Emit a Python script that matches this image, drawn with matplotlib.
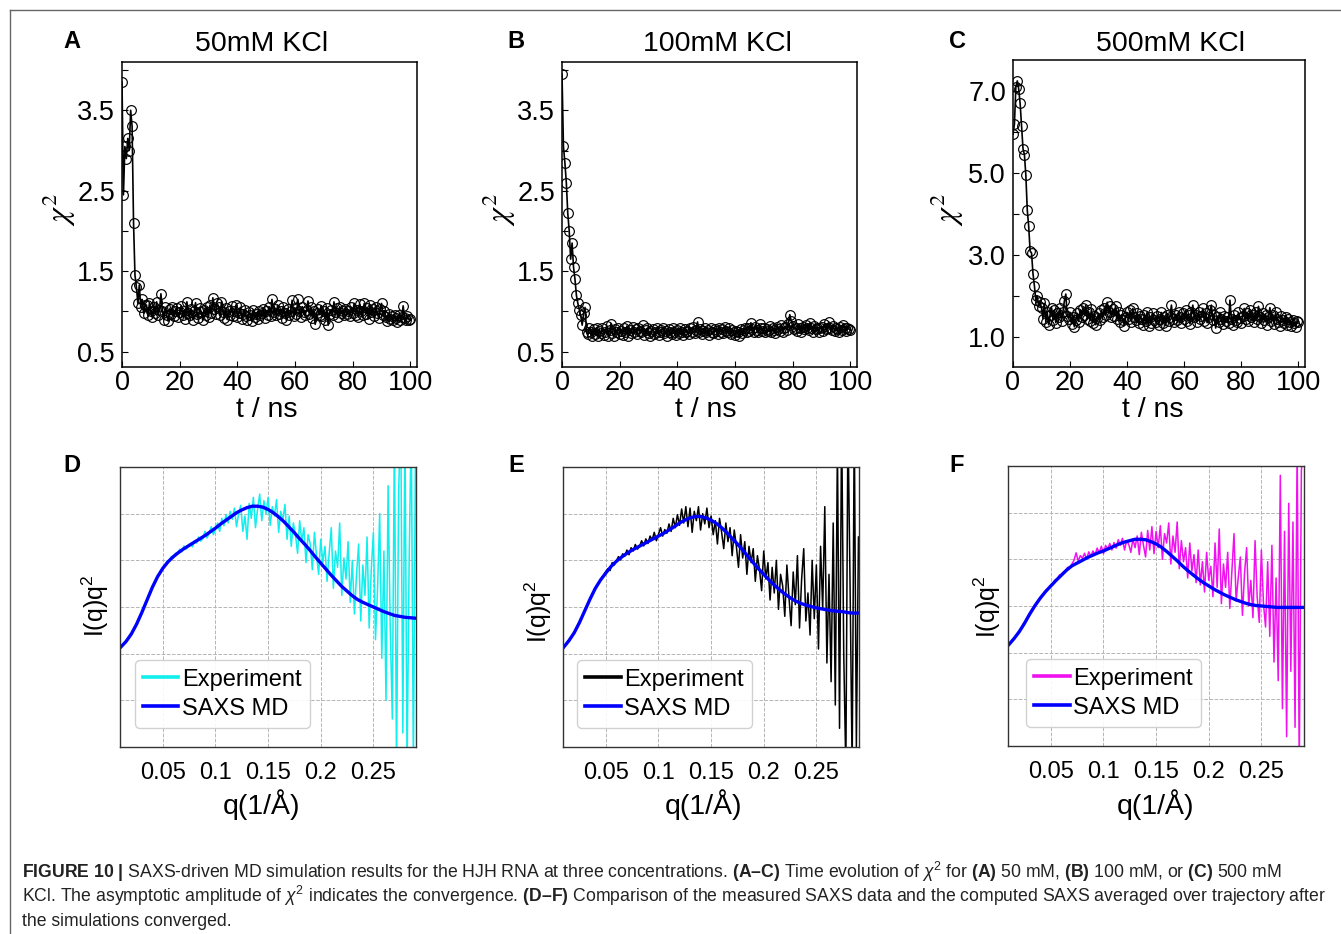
import numpy as np
import matplotlib.pyplot as plt
from matplotlib.lines import Line2D

plt.rcParams['font.family'] = ['Liberation Sans', 'DejaVu Sans']
plt.rcParams['mathtext.fontset'] = 'custom'
plt.rcParams['mathtext.rm'] = 'Liberation Sans'
plt.rcParams['mathtext.it'] = 'Liberation Sans:italic'
plt.rcParams['mathtext.bf'] = 'Liberation Sans:bold'

# ---- chi^2 traces, one value every 0.5 ns ----
chi_50 = [3.85, 2.45, 3.05, 2.90, 3.15, 3.00, 3.50, 3.30, 2.10, 1.45, 1.30, 1.10, 1.33, 1.05, 1.15, 0.98, 1.08,
          1.08, 0.95, 1.10, 1.00, 0.93, 1.05, 0.98, 1.12, 0.96, 1.02,
          1.22, 1.00, 0.90, 1.05, 0.95, 0.88, 1.03, 0.97, 1.06, 0.94,
          1.00, 1.04, 0.93, 0.99, 1.07, 0.96, 1.01, 0.91, 1.12, 0.98,
          0.95, 1.03, 0.90, 1.00, 1.11, 0.97, 0.92, 1.04, 0.99, 0.89,
          1.02, 0.96, 1.05, 0.93, 1.08, 0.98, 1.17, 1.03, 0.97, 1.10,
          1.06, 0.95, 1.12, 0.99, 0.92, 1.04, 0.90, 1.01, 0.96, 1.07,
          0.94, 1.00, 1.08, 0.93, 0.98, 1.05, 0.91, 0.97, 1.02, 0.94,
          0.90, 0.99, 0.95, 0.88, 1.02, 0.93, 0.97, 0.91, 1.00, 0.95,
          0.98, 1.03, 0.92, 1.01, 0.96, 1.06, 0.94, 1.15, 0.99, 1.03,
          0.95, 1.08, 0.97, 1.01, 0.92, 1.05, 0.98, 0.89, 1.03, 0.96,
          1.00, 1.14, 0.94, 1.04, 0.97, 1.15, 1.01, 0.93, 1.06, 0.99,
          0.95, 1.02, 1.13, 0.97, 1.05, 0.92, 1.00, 0.84, 0.98, 1.03,
          0.96, 1.07, 0.94, 1.01, 0.90, 1.04, 0.83, 0.97, 1.02, 0.95,
          1.12, 0.99, 1.04, 0.93, 1.06, 0.98, 1.01, 0.95, 1.03, 0.97,
          1.00, 0.94, 1.05, 0.98, 1.10, 0.96, 1.02, 0.93, 1.09, 1.00,
          0.95, 1.10, 0.97, 1.04, 0.91, 1.08, 0.99, 1.03, 0.94, 1.06,
          0.98, 0.92, 1.03, 1.10, 0.96, 1.01, 0.93, 0.88, 0.97, 0.91,
          0.94, 0.89, 0.96, 0.92, 0.87, 0.95, 0.90, 0.93, 1.07, 0.92,
          0.89, 0.94, 0.90, 0.91]

chi_100 = [3.95, 3.05, 2.85, 2.60, 2.22, 2.00, 1.65, 1.85, 1.55, 1.40, 1.20, 1.10, 1.02, 0.95, 0.83, 0.98, 1.05, 0.75, 0.72, 0.80,
           0.74, 0.70, 0.78, 0.72, 0.80, 0.69, 0.76, 0.73, 0.79, 0.71,
           0.75, 0.82, 0.70, 0.77, 0.85, 0.73, 0.69, 0.78, 0.74, 0.80,
           0.72, 0.76, 0.71, 0.79, 0.74, 0.82, 0.70, 0.77, 0.73, 0.81,
           0.75, 0.78, 0.72, 0.80, 0.76, 0.74, 0.83, 0.71, 0.77, 0.79,
           0.73, 0.70, 0.76, 0.78, 0.72, 0.75, 0.79, 0.71, 0.74, 0.77,
           0.80, 0.73, 0.76, 0.70, 0.78, 0.74, 0.72, 0.79, 0.75, 0.71,
           0.77, 0.73, 0.80, 0.75, 0.71, 0.78, 0.74, 0.76, 0.72, 0.79,
           0.75, 0.81, 0.73, 0.77, 0.87, 0.74, 0.78, 0.72, 0.76, 0.80,
           0.74, 0.77, 0.71, 0.79, 0.75, 0.73, 0.78, 0.76, 0.72, 0.80,
           0.75, 0.78, 0.73, 0.81, 0.76, 0.74, 0.79, 0.72, 0.77, 0.75,
           0.71, 0.76, 0.74, 0.69, 0.78, 0.73, 0.77, 0.80, 0.75, 0.79,
           0.76, 0.86, 0.78, 0.74, 0.81, 0.77, 0.75, 0.84, 0.79, 0.76,
           0.80, 0.74, 0.78, 0.76, 0.82, 0.75, 0.79, 0.77, 0.73, 0.81,
           0.78, 0.76, 0.83, 0.75, 0.79, 0.81, 0.77, 0.85, 0.96, 0.88,
           0.82, 0.78, 0.80, 0.76, 0.84, 0.79, 0.75, 0.81, 0.78, 0.83,
           0.80, 0.77, 0.86, 0.79, 0.75, 0.82, 0.78, 0.80, 0.74, 0.79,
           0.81, 0.76, 0.84, 0.78, 0.80, 0.87, 0.79, 0.77, 0.82, 0.76,
           0.80, 0.78, 0.75, 0.81, 0.77, 0.83, 0.79, 0.76, 0.80, 0.78,
           0.77]

chi_500 = [5.95, 6.20, 7.10, 7.25, 7.05, 6.70, 6.15, 5.60, 5.45, 4.95, 4.10, 3.70, 3.10, 3.05, 2.55, 2.25, 1.90, 2.00, 1.75, 1.85,
           1.70, 1.45, 1.82, 1.38, 1.60, 1.30, 1.55, 1.72, 1.42, 1.65,
           1.35, 1.58, 1.48, 1.70, 1.40, 1.62, 1.88, 2.05, 1.52, 1.45,
           1.60, 1.33, 1.50, 1.25, 1.42, 1.58, 1.38, 1.65, 1.48, 1.72,
           1.55, 1.78, 1.45, 1.62, 1.40, 1.68, 1.35, 1.52, 1.30, 1.47,
           1.58, 1.42, 1.65, 1.50, 1.72, 1.55, 1.85, 1.60, 1.75, 1.48,
           1.68, 1.52, 1.75, 1.45, 1.62, 1.38, 1.55, 1.42, 1.28, 1.50,
           1.60, 1.45, 1.65, 1.38, 1.70, 1.50, 1.42, 1.58, 1.35, 1.52,
           1.45, 1.30, 1.55, 1.40, 1.62, 1.28, 1.48, 1.35, 1.58, 1.42,
           1.38, 1.52, 1.30, 1.45, 1.60, 1.35, 1.48, 1.28, 1.55, 1.40,
           1.50, 1.78, 1.45, 1.38, 1.55, 1.42, 1.62, 1.48, 1.35, 1.58,
           1.45, 1.65, 1.40, 1.55, 1.32, 1.60, 1.78, 1.48, 1.55, 1.38,
           1.62, 1.45, 1.52, 1.70, 1.40, 1.58, 1.35, 1.50, 1.65, 1.78,
           1.42, 1.55, 1.22, 1.48, 1.38, 1.60, 1.45, 1.32, 1.52, 1.40,
           1.48, 1.35, 1.90, 1.45, 1.30, 1.55, 1.42, 1.38, 1.60, 1.47,
           1.35, 1.52, 1.70, 1.45, 1.58, 1.40, 1.65, 1.48, 1.55, 1.38,
           1.62, 1.45, 1.75, 1.50, 1.35, 1.58, 1.42, 1.55, 1.30, 1.48,
           1.72, 1.40, 1.55, 1.32, 1.60, 1.45, 1.38, 1.28, 1.52, 1.42,
           1.35, 1.50, 1.30, 1.45, 1.38, 1.28, 1.42, 1.35, 1.25, 1.40,
           1.38]

# ---- SAXS: computed curves, q = 0.010 .. 0.290 step 0.005 ----
md_50 = [2.14, 2.26, 2.42, 2.63, 2.88, 3.15, 3.42, 3.65, 3.83, 3.97, 4.08, 4.17, 4.25, 4.32, 4.39,
         4.46, 4.53, 4.61, 4.69, 4.78, 4.86, 4.94, 5.02, 5.08, 5.13, 5.16, 5.16, 5.14, 5.09, 5.02,
         4.93, 4.83, 4.71, 4.59, 4.46, 4.34, 4.21, 4.07, 3.94, 3.81, 3.68, 3.56, 3.44, 3.34, 3.24,
         3.16, 3.10, 3.05, 3.00, 2.95, 2.90, 2.86, 2.82, 2.80, 2.78, 2.77, 2.76]
md_100 = [2.14, 2.28, 2.45, 2.67, 2.92, 3.17, 3.40, 3.58, 3.73, 3.87, 3.98, 4.07, 4.15, 4.22, 4.28,
          4.34, 4.40, 4.46, 4.52, 4.58, 4.65, 4.72, 4.80, 4.86, 4.91, 4.94, 4.94, 4.91, 4.86, 4.79,
          4.70, 4.59, 4.47, 4.35, 4.22, 4.08, 3.95, 3.82, 3.70, 3.58, 3.47, 3.37, 3.28, 3.20, 3.13,
          3.08, 3.04, 3.01, 2.98, 2.96, 2.94, 2.92, 2.91, 2.90, 2.88, 2.87, 2.87]
md_500 = [2.17, 2.30, 2.45, 2.63, 2.83, 3.01, 3.17, 3.31, 3.43, 3.55, 3.66, 3.77, 3.86, 3.92, 3.98,
          4.04, 4.09, 4.14, 4.18, 4.23, 4.28, 4.33, 4.37, 4.40, 4.43, 4.43, 4.42, 4.38, 4.33, 4.26,
          4.17, 4.07, 3.97, 3.86, 3.76, 3.67, 3.58, 3.50, 3.43, 3.36, 3.30, 3.24, 3.19, 3.14, 3.10,
          3.06, 3.03, 3.01, 3.00, 2.99, 2.98, 2.97, 2.97, 2.97, 2.97, 2.97, 2.97]

# ---- SAXS: measured, q = 0.010 .. 0.290 step 0.002 ----
exp_50 = [2.14, 2.19, 2.24, 2.31, 2.36, 2.43, 2.50, 2.60, 2.69, 2.80, 2.88, 3.00, 3.09, 3.22, 3.30, 3.43, 3.51, 3.61, 3.67, 3.77,
          3.86, 3.88, 3.99, 3.98, 4.08, 4.05, 4.15, 4.14, 4.24, 4.18,
          4.31, 4.24, 4.30, 4.36, 4.29, 4.42, 4.37, 4.50, 4.41, 4.47,
          4.62, 4.48, 4.58, 4.72, 4.55, 4.66, 4.80, 4.62, 4.90, 4.74,
          4.98, 4.80, 5.05, 4.88, 5.12, 4.72, 5.00, 5.18, 4.62, 4.95,
          4.45, 5.22, 4.90, 5.35, 4.70, 5.10, 5.42, 4.85, 5.28, 5.00,
          5.35, 4.75, 5.15, 4.95, 5.30, 4.60, 5.05, 4.85, 5.20, 4.45,
          4.95, 4.30, 4.80, 4.55, 4.15, 4.85, 4.40, 4.70, 3.95, 4.55,
          4.35, 3.80, 4.60, 4.10, 3.70, 4.45, 3.95, 4.30, 3.55, 4.15,
          4.70, 3.40, 4.20, 3.85, 4.80, 3.25, 4.05, 3.60, 4.40, 3.10,
          4.00, 2.85, 3.70, 4.35, 2.70, 3.90, 3.25, 4.50, 2.55, 3.80,
          4.60, 2.30, 3.40, 5.00, 1.90, 4.20, 1.00, 5.60, 2.60, 0.60,
          6.80, -0.50, 5.50, 7.00, 0.30, 7.00, -0.50, 4.00, 7.00, -0.50, 6.50]
exp_100 = [2.14, 2.20, 2.27, 2.33, 2.39, 2.46, 2.55, 2.64, 2.74, 2.83, 2.93, 3.03, 3.13, 3.22, 3.32, 3.40, 3.48, 3.55, 3.62, 3.68,
           3.76, 3.82, 3.78, 3.95, 3.90, 3.99, 4.08, 4.01, 4.14, 4.09,
           4.22, 4.12, 4.27, 4.20, 4.34, 4.24, 4.30, 4.42, 4.31, 4.46,
           4.36, 4.52, 4.44, 4.60, 4.42, 4.56, 4.70, 4.52, 4.66, 4.58,
           4.78, 4.62, 4.90, 4.70, 4.98, 4.75, 5.10, 4.80, 5.15, 4.72,
           5.12, 4.60, 5.05, 4.85, 5.15, 4.65, 5.00, 4.78, 5.12, 4.70,
           4.95, 4.55, 4.85, 4.35, 4.90, 4.60, 4.25, 4.80, 4.40, 4.70,
           4.10, 4.65, 4.30, 3.85, 4.55, 4.05, 4.40, 3.70, 4.30, 3.95,
           4.25, 3.55, 4.10, 3.80, 3.35, 4.20, 3.60, 3.95, 3.15, 3.85,
           3.30, 4.00, 2.95, 3.70, 3.45, 2.80, 3.90, 3.20, 2.60, 3.75,
           3.05, 4.10, 2.55, 3.60, 4.25, 2.70, 3.30, 2.40, 4.00, 2.75,
           3.90, 2.10, 4.30, 2.95, 5.15, 1.80, 3.70, 1.40, 4.80, 0.90,
           6.50, 0.40, 7.00, 2.00, -0.50, 7.00, 3.50, -0.50, 7.00, 0.00, 4.50]
exp_500 = [2.17, 2.22, 2.29, 2.34, 2.39, 2.46, 2.53, 2.62, 2.68, 2.77, 2.84, 2.92, 2.98, 3.06, 3.11, 3.18, 3.24, 3.28, 3.35, 3.38,
           3.45, 3.47, 3.56, 3.57, 3.66, 3.68, 3.73, 3.76, 3.83, 3.82,
           3.90, 3.98, 4.14, 3.96, 4.08, 4.02, 4.13, 4.00, 4.16, 4.07,
           4.18, 4.10, 4.24, 4.14, 4.28, 4.12, 4.30, 4.22, 4.34, 4.20,
           4.36, 4.24, 4.42, 4.30, 4.45, 4.20, 4.40, 4.32, 4.15, 4.44,
           4.25, 4.50, 4.10, 4.58, 4.30, 4.05, 4.62, 4.20, 4.70, 4.12,
           4.60, 4.25, 4.72, 4.00, 4.55, 4.35, 4.78, 3.90, 4.50, 4.15,
           4.80, 3.80, 4.40, 3.95, 4.25, 3.60, 4.35, 3.75, 4.10, 3.50,
           4.20, 3.45, 3.95, 3.30, 4.15, 3.55, 3.85, 3.20, 4.35, 3.40,
           4.65, 3.05, 3.90, 3.40, 4.15, 2.95, 3.75, 4.55, 3.10, 3.60,
           4.05, 2.80, 3.70, 4.25, 3.00, 3.55, 2.75, 4.40, 3.20, 2.65,
           4.20, 3.05, 2.55, 3.95, 2.35, 4.30, 1.80, 3.60, 1.40, 5.80,
           0.80, 4.60, 0.20, 5.20, 1.60, 4.80, 0.40, 6.50, -0.50, 5.90, 6.50]

titles = ['50mM KCl', '100mM KCl', '500mM KCl']
chi_all = [chi_50, chi_100, chi_500]
md_all = [md_50, md_100, md_500]
exp_all = [exp_50, exp_100, exp_500]
exp_colors = ['#10eeee', 'black', '#f010f0']

W, H = 1341, 934
fig = plt.figure(figsize=(W / 100, H / 100), dpi=100)


def box(l, t, r, b):
    return [l / W, 1 - b / H, (r - l) / W, (b - t) / H]


def ftext(x, y, s, **kw):
    fig.text(x / W, 1 - y / H, s, **kw)


# frame of the figure page
fig.add_artist(Line2D([10 / W, 1], [1 - 10 / H, 1 - 10 / H], color='#666666', lw=1))
fig.add_artist(Line2D([10 / W, 10 / W], [0, 1 - 10 / H], color='#666666', lw=1))

top_boxes = [(122, 62, 417, 367), (562, 62, 857, 367), (1013, 60, 1305, 367)]
top_ylims = [(0.31, 4.1), (0.31, 4.1), (0.27, 7.76)]
top_major = [[0.5, 1.5, 2.5, 3.5], [0.5, 1.5, 2.5, 3.5], [1.0, 3.0, 5.0, 7.0]]
top_minor = [[1, 2, 3, 4], [1, 2, 3, 4], [2, 4, 6]]
letters_top = [('A', 72), ('B', 516), ('C', 957)]
title_x = [262, 717, 1170]
chi_lab_x = [59, 499, 947]
tlab_x = [267, 706, 1153]

for i in range(3):
    ax = fig.add_axes(box(*top_boxes[i]))
    chi = np.array(chi_all[i])
    t = np.arange(len(chi)) * 0.5
    ax.plot(t, chi, '-', color='k', lw=1.2, marker='o', ms=7,
            mfc='none', mec='k', mew=0.85)
    ax.set_xlim(0, 102.3)
    ax.set_ylim(*top_ylims[i])
    ax.set_xticks([0, 20, 40, 60, 80, 100])
    ax.set_yticks(top_major[i])
    ax.set_yticklabels(['%.1f' % v for v in top_major[i]])
    ax.set_yticks(top_minor[i], minor=True)
    ax.tick_params(which='both', direction='in', length=4, width=0.8)
    ax.tick_params(axis='x', labelsize=19.5, pad=2)
    ax.tick_params(axis='y', labelsize=19.5, pad=5)
    for s in ax.spines.values():
        s.set_linewidth(1.1)
    ftext(letters_top[i][1], 48, letters_top[i][0], fontsize=17, fontweight='bold', ha='center', va='baseline')
    ftext(title_x[i], 51, titles[i], fontsize=20.5, ha='center', va='baseline')
    ftext(chi_lab_x[i], 210, r'$\chi^2$', fontsize=23, rotation=90, ha='center', va='center',
          math_fontfamily='stix')
    ftext(tlab_x[i], 410, 't / ns', fontsize=20.5, ha='center', va='center')

bot_boxes = [(120, 467, 416, 747), (563, 467, 859, 747), (1008, 466, 1304, 746)]
letters_bot = [('D', 72), ('E', 516), ('F', 957)]
ilab_x = [95, 538, 987]
ilab_y = [606, 612, 607]
qlab_x = [261, 704, 1156]
leg_x0 = [0.05, 0.047, 0.061]

for i in range(3):
    ax = fig.add_axes(box(*bot_boxes[i]))
    ev = np.array(exp_all[i])
    mv = np.array(md_all[i])
    q_exp = np.linspace(0.010, 0.290, len(ev))
    q_md = np.linspace(0.010, 0.290, len(mv))
    ax.plot(q_exp, ev, color=exp_colors[i], lw=1.1, label='Experiment')
    ax.plot(q_md, mv, color='#0000ff', lw=2.4, label='SAXS MD')
    ax.set_xlim(0.0093, 0.2905)
    ax.set_ylim(0, 6)
    ax.set_xticks([0.05, 0.1, 0.15, 0.2, 0.25])
    ax.set_xticklabels(['0.05', '0.1', '0.15', '0.2', '0.25'])
    ax.set_yticks([1, 2, 3, 4, 5])
    ax.set_yticklabels([])
    ax.tick_params(length=0, labelsize=17, pad=11)
    ax.grid(True, ls='--', color='#b5b5b5', lw=0.7)
    for s in ax.spines.values():
        s.set_color('#333333')
        s.set_linewidth(1.0)
    leg = ax.legend(loc='lower left', bbox_to_anchor=(leg_x0[i], 0.068), borderaxespad=0,
                    fontsize=17, handlelength=1.5, handletextpad=0.15, labelspacing=0.3,
                    borderpad=0.35, framealpha=0.9, edgecolor='#cccccc', fancybox=True)
    for ln in leg.get_lines():
        ln.set_linewidth(2.6)
    ftext(letters_bot[i][1], 472, letters_bot[i][0], fontsize=17, fontweight='bold', ha='center', va='baseline')
    ftext(ilab_x[i], ilab_y[i], r'I(q)q$^2$', fontsize=18, rotation=90, ha='center', va='center')
    ftext(qlab_x[i], 805, 'q(1/Å)', fontsize=20.5, ha='center', va='center')

# caption
cap1 = (r'$\mathbf{FIGURE\ 10\ |}$ SAXS-driven MD simulation results for the HJH RNA at three concentrations. '
        r'$\mathbf{(A–C)}$ Time evolution of $\chi^2$ for $\mathbf{(A)}$ 50 mM, $\mathbf{(B)}$ 100 mM, or '
        r'$\mathbf{(C)}$ 500 mM')
cap2 = (r'KCl. The asymptotic amplitude of $\chi^2$ indicates the convergence. $\mathbf{(D–F)}$ Comparison of the '
        r'measured SAXS data and the computed SAXS averaged over trajectory after')
cap3 = 'the simulations converged.'
for y, s in [(878, cap1), (902, cap2), (926, cap3)]:
    ftext(22, y, s, fontsize=12.7, ha='left', va='baseline', color='#222222')

fig.savefig('out.png', dpi=100)
